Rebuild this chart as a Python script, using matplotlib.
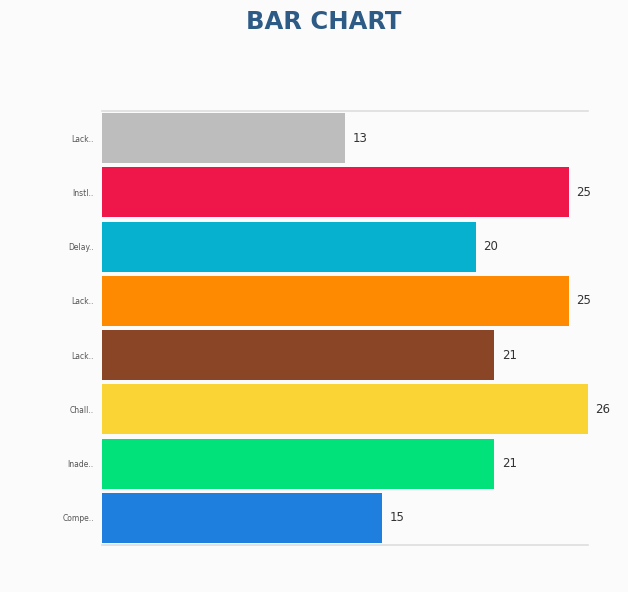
import matplotlib.pyplot as plt

labels = ['Lack..', 'Instl..', 'Delay..', 'Lack..', 'Lack..', 'Chall..', 'Inade..', 'Compe..']
values = [13, 25, 20, 25, 21, 26, 21, 15]
colors = ['#bdbdbd', '#ef1649', '#05b1cf', '#fd8a00', '#8a4426', '#fad334', '#02e27b', '#1f7fdf']

fig = plt.figure(figsize=(6.28, 5.92), dpi=100, facecolor='#fbfbfb')
ax = fig.add_axes([0.1624, 0.0794, 0.7736, 0.7331])
ax.set_facecolor('#fbfbfb')

pos = list(range(len(labels)))
bars = ax.barh(pos, values, height=0.92, color=colors)
ax.set_ylim(len(labels) - 0.5, -0.5)
ax.set_xlim(0, 26)

for b, v in zip(bars, values):
    ax.text(b.get_width() + 0.4, b.get_y() + b.get_height() / 2, str(v),
            va='center', ha='left', fontsize=8.5, color='#333333')

ax.set_yticks(pos)
ax.set_yticklabels(labels, fontsize=5.5, color='#555555')
ax.tick_params(axis='y', length=0, pad=6)
ax.set_xticks([])
for s in ['left', 'right']:
    ax.spines[s].set_visible(False)
for s in ['top', 'bottom']:
    ax.spines[s].set_color('#dddddd')
    ax.spines[s].set_linewidth(1.2)

fig.text(0.516, 0.962, 'BAR CHART', ha='center', va='center', fontsize=17.5,
         fontweight='bold', color='#2d5b86', family='DejaVu Sans')

fig.savefig('out.png', dpi=100, facecolor=fig.get_facecolor())
